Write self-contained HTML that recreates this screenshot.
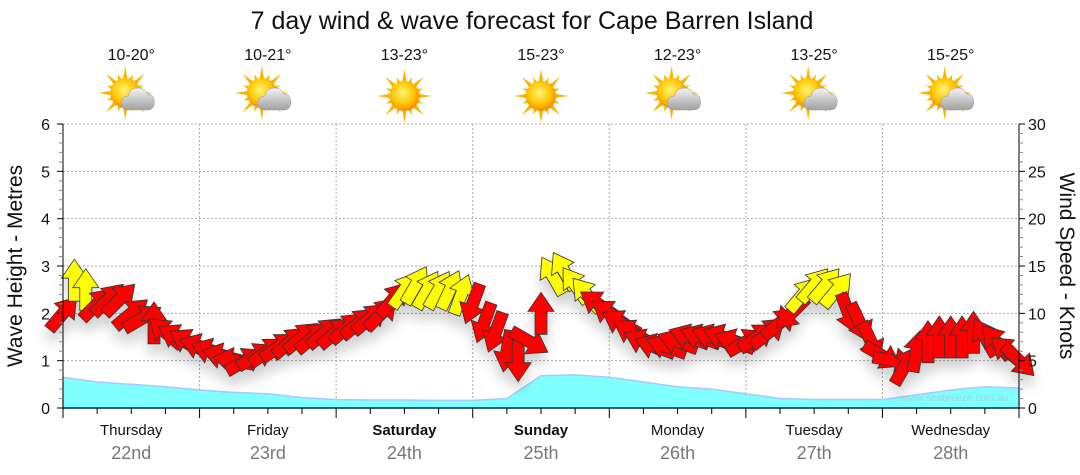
<!DOCTYPE html>
<html><head><meta charset="utf-8"><style>
body{margin:0;background:#fff;}
svg{display:block;font-family:"Liberation Sans","DejaVu Sans",sans-serif;}
</style></head><body>
<svg id="c" width="1080" height="475" viewBox="0 0 1080 475">
<defs>
<filter id="sh" x="-50%" y="-50%" width="200%" height="200%"><feDropShadow dx="0" dy="10" stdDeviation="6" flood-color="#000" flood-opacity="0.18"/></filter>
<radialGradient id="sun" cx="0.45" cy="0.4" r="0.6"><stop offset="0" stop-color="#fff37a"/><stop offset="0.6" stop-color="#ffc800"/><stop offset="1" stop-color="#f08c00"/></radialGradient>
<linearGradient id="cloud" x1="0" y1="0" x2="0" y2="1"><stop offset="0" stop-color="#f4f4f4"/><stop offset="1" stop-color="#a0a0a0"/></linearGradient>
</defs>
<text x="532" y="29" text-anchor="middle" font-size="25" fill="#111">7 day wind &amp; wave forecast for Cape Barren Island</text>
<g id="grid"></g>
<g id="wave"></g>
<g id="wind" filter="url(#sh)"></g>
<g id="axes"></g>
<g id="icons"></g>
<text x="955" y="401" text-anchor="middle" font-size="10" fill="#9fd4e0">www.seabreeze.com.au</text>
<text transform="translate(22,266) rotate(-90)" text-anchor="middle" font-size="21" fill="#111">Wave Height - Metres</text>
<text transform="translate(1060,266) rotate(90)" text-anchor="middle" font-size="21" fill="#111">Wind Speed - Knots</text>
</svg>
<script>
const days=["Thursday","Friday","Saturday","Sunday","Monday","Tuesday","Wednesday"];
const dates=["22nd","23rd","24th","25th","26th","27th","28th"];
const bold=[false,false,true,true,false,false,false];
const temps=["10-20°","10-21°","13-23°","15-23°","12-23°","13-25°","15-25°"];
const sunny=[false,false,true,true,false,false,false];
// wave height every 6 hours (m)
const wave=[0.65,0.55,0.5,0.45,0.38,0.33,0.3,0.22,0.18,0.17,0.17,0.16,0.16,0.2,0.68,0.7,0.65,0.55,0.45,0.4,0.3,0.2,0.18,0.18,0.18,0.28,0.38,0.45,0.42];
// wind every 2 hours (knots) and arrow direction (deg, 0=up, clockwise)
const windSpeed=[10,13.5,12.5,11,11.5,11.5,10,9.5,9,8,7.5,7,
6.5,6,5.5,5,5,5.5,6,6.5,7,7.5,7.5,8,
8,8.5,9,9.5,10,11.5,12.5,13,12.5,12.5,12.5,12,
11,9,8,6,5,7,10,14,14.5,13,12,11,
10,9,8,7,6.5,6.5,7,7.5,7.5,7.5,7.5,7,
7,7.5,8,9,10,12,13,13,12.5,10,9,7,
5.5,5,4.5,6,7,7.5,7.5,7.5,8,7.5,7,6,5];
const windDir=[40,0,0,45,45,45,50,60,0,-50,-60,-60,
-70,-70,-75,-80,60,60,55,55,50,50,50,50,
50,50,50,50,45,40,35,30,30,30,25,20,
200,200,200,190,180,120,0,-30,-30,-35,-40,-55,
-55,-60,-60,-65,-70,-70,-70,-70,-70,-70,-70,-70,
60,55,50,50,225,40,40,40,40,160,155,155,
120,100,30,10,0,0,0,0,0,-30,-40,-50,135];
const NS="http://www.w3.org/2000/svg";
const X0=63,X1=1019,Y0=408,Y1=124;
const dayW=(X1-X0)/7;
const xh=h=>X0+h/24*dayW;
const ym=m=>Y0-m/6*(Y0-Y1);
const yk=k=>Y0-k/30*(Y0-Y1);
function mk(tag,attrs,parent){const e=document.createElementNS(NS,tag);for(const k in attrs)e.setAttribute(k,attrs[k]);document.getElementById(parent).appendChild(e);return e;}
for(let m=1;m<=6;m++){const l=mk('line',{x1:X0,x2:X1,y1:ym(m),y2:ym(m),stroke:'#aaa','stroke-dasharray':'2,2'},'grid');

}
for(let d=1;d<7;d++){const l=mk('line',{x1:X0+d*dayW,x2:X0+d*dayW,y1:Y1,y2:Y0,stroke:'#aaa','stroke-dasharray':'2,2'},'grid');

}
let p=`M${X0},${Y0}`;wave.forEach((v,i)=>{p+=` L${xh(i*6).toFixed(1)},${ym(v).toFixed(1)}`});p+=` L${X1},${Y0} Z`;
const wa=mk('path',{d:p,fill:'#80ffff',stroke:'#a8c8ff','stroke-width':1.5,'stroke-linejoin':'round'},'wave');


const L=42,hw=13,sw=6,hl=19;
windSpeed.forEach((k,i)=>{
 const cx=xh(i*2),cy=yk(k);
 const pts=[[0,-L/2],[hw,-L/2+hl],[sw,-L/2+hl],[sw,L/2],[-sw,L/2],[-sw,-L/2+hl],[-hw,-L/2+hl]].map(q=>q.join(',')).join(' ');
 const a=mk('polygon',{points:pts,fill:k>=12?'#ffff00':'#ff0000',stroke:'#333','stroke-width':0.8,transform:`translate(${cx.toFixed(1)},${cy.toFixed(1)}) rotate(${windDir[i]})`},'wind');
 
 
});
mk('line',{x1:X0,x2:X1,y1:Y0,y2:Y0,stroke:'#003366','stroke-width':1.5},'axes');
mk('line',{x1:X0,x2:X0,y1:Y1,y2:Y0,stroke:'#000'},'axes');
mk('line',{x1:X1,x2:X1,y1:Y1,y2:Y0,stroke:'#000'},'axes');
for(let i=0;i<=30;i++){const m=i/5;const y=ym(m);mk('line',{x1:X0-(i%5?4:6),x2:X0,y1:y,y2:y,stroke:i%5?'#888':'#000'},'axes');
 if(i%5==0){const t=mk('text',{x:X0-13,y:y+6,'text-anchor':'end','font-size':16,fill:'#111'},'axes');t.textContent=m;
 
 }}
for(let k=0;k<=30;k++){const y=yk(k);mk('line',{x1:X1,x2:X1+(k%5?4:6),y1:y,y2:y,stroke:k%5?'#888':'#000'},'axes');
 if(k%5==0){const t=mk('text',{x:X1+9,y:y+6,'font-size':16,fill:'#111'},'axes');t.textContent=k;
 
 }}
for(let h=0;h<=168;h+=6){const x=xh(h);mk('line',{x1:x,x2:x,y1:Y0,y2:Y0+(h%24?6:10),stroke:'#000'},'axes');}
days.forEach((d,i)=>{const cx=X0+(i+0.5)*dayW;
 const t=mk('text',{x:cx,y:435,'text-anchor':'middle','font-size':15,fill:'#111','font-weight':bold[i]?'bold':'normal'},'axes');t.textContent=d;
 
 
 const t2=mk('text',{x:cx,y:459,'text-anchor':'middle','font-size':18,fill:'#777'},'axes');t2.textContent=dates[i];
 
 
 const t3=mk('text',{x:cx,y:60,'text-anchor':'middle','font-size':16,fill:'#111'},'icons');t3.textContent=temps[i];
 
 
 const g=mk('g',{transform:`translate(${cx},96)`},'icons');
 
 
 const sx=sunny[i]?0:-6,sy=sunny[i]?0:-3;
 for(let r=0;r<16;r++){const ang=r*22.5*Math.PI/180,len=r%2?20:27;
  const ca=Math.cos(ang),sa=Math.sin(ang);
  const poly=document.createElementNS(NS,'polygon');
  poly.setAttribute('points',`${sx+ca*len},${sy+sa*len} ${sx-sa*2.5+ca*12},${sy+ca*2.5+sa*12} ${sx+sa*2.5+ca*12},${sy-ca*2.5+sa*12}`);
  poly.setAttribute('fill','#f7b500');g.appendChild(poly);}
 const s=document.createElementNS(NS,'circle');s.setAttribute('cx',sx);s.setAttribute('cy',sy);s.setAttribute('r',15);s.setAttribute('fill','url(#sun)');g.appendChild(s);
 if(!sunny[i]){
  const cp=document.createElementNS(NS,'path');
  cp.setAttribute('d','M-4,14 Q-10,14 -10,7 Q-10,0 -3,0 Q-2,-8 7,-8 Q14,-8 16,-2 Q23,-2 23,6 Q23,14 16,14 Z');
  cp.setAttribute('fill','url(#cloud)');cp.setAttribute('stroke','#999');cp.setAttribute('stroke-width','0.5');g.appendChild(cp);}
});
</script>
</body></html>
